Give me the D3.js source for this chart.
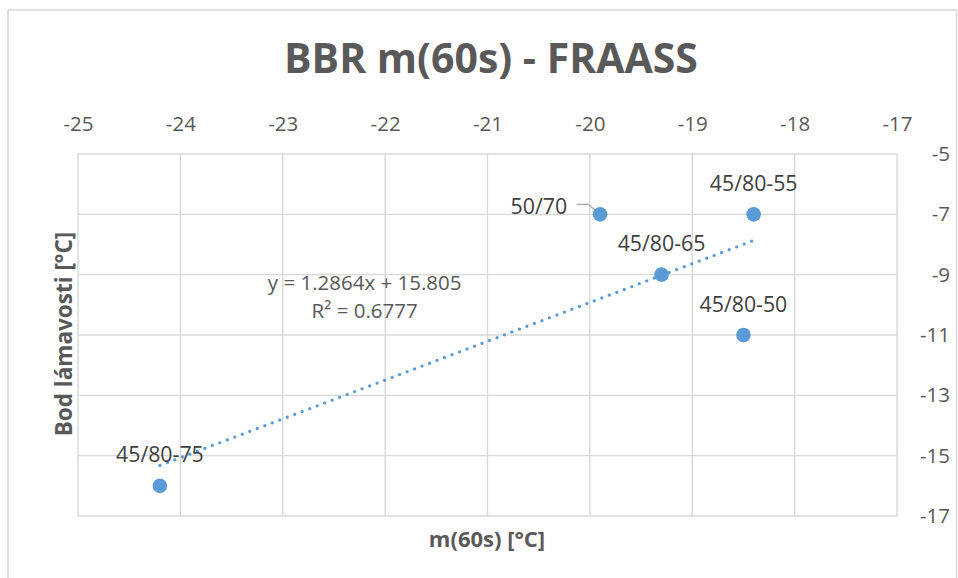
<!DOCTYPE html>
<html>
<head>
<meta charset="utf-8">
<script src="https://cdn.jsdelivr.net/npm/d3@7"></script>
<style>
  html, body { margin: 0; padding: 0; background: #ffffff; }
  svg { display: block; font-family: "Open Sans", "Noto Sans", sans-serif; }
</style>
</head>
<body>
<svg id="chart" width="958" height="578"></svg>
<script>
// Samples: m(60s) vs. breaking point (Fraass)
const sampleNames = ["45/80-75", "50/70", "45/80-65", "45/80-55", "45/80-50"];
const m60Values   = [-24.2, -19.9, -19.3, -18.4, -18.5];
const fraassValues = [-16, -7, -9, -7, -11];

// Linear trendline coefficients as printed on the chart
const trendSlope = 1.2864;
const trendIntercept = 15.805;
const trendR2 = 0.6777;

// Axis ticks
const xTicks = [-25, -24, -23, -22, -21, -20, -19, -18, -17];
const yTicks = [-5, -7, -9, -11, -13, -15, -17];

const svg = d3.select("#chart");
const plot = { left: 78, top: 154, right: 897, bottom: 516 };

const x = d3.scaleLinear().domain([-25, -17]).range([plot.left, plot.right]);
const y = d3.scaleLinear().domain([-17, -5]).range([plot.bottom, plot.top]);

const textColor = "#595959";
const gridColor = "#d9d9d9";
const blue = "#5b9bd5";

// chart frame
svg.append("rect")
  .attr("x", 8).attr("y", 10)
  .attr("width", 948.5).attr("height", 620)
  .attr("fill", "#fff").attr("stroke", "#d9d9d9").attr("stroke-width", 1.6);

// title
svg.append("text")
  .attr("x", 491).attr("y", 73)
  .attr("text-anchor", "middle")
  .attr("font-size", 41).attr("font-weight", 700)
  .attr("fill", textColor)
  .text("BBR m(60s) - FRAASS");

// gridlines
const grid = svg.append("g");
grid.selectAll("line.v").data(xTicks).join("line")
  .attr("x1", d => x(d)).attr("x2", d => x(d))
  .attr("y1", plot.top).attr("y2", plot.bottom)
  .attr("stroke", gridColor).attr("stroke-width", 1.4);
grid.selectAll("line.h").data(yTicks).join("line")
  .attr("y1", d => y(d)).attr("y2", d => y(d))
  .attr("x1", plot.left).attr("x2", plot.right)
  .attr("stroke", gridColor).attr("stroke-width", 1.4);

// top x axis (labels only)
const xAxis = d3.axisTop(x).tickValues(xTicks).tickSize(0).tickPadding(0)
  .tickFormat(d => d3.format("d")(d).replace("−", "-"));
const gx = svg.append("g").attr("transform", `translate(0,${plot.top - 23})`).call(xAxis);
gx.select(".domain").remove();
gx.selectAll("text").attr("font-size", 20.5).attr("fill", textColor)
  .attr("font-family", "'Open Sans', sans-serif");

// right y axis (labels only)
const yAxis = d3.axisRight(y).tickValues(yTicks).tickSize(0).tickPadding(0)
  .tickFormat(d => d3.format("d")(d).replace("−", "-"));
const gy = svg.append("g").attr("transform", `translate(${plot.right + 53},0)`).call(yAxis);
gy.select(".domain").remove();
gy.selectAll("text").attr("font-size", 20.5).attr("fill", textColor)
  .attr("text-anchor", "end")
  .attr("font-family", "'Open Sans', sans-serif");

// axis titles
svg.append("text")
  .attr("x", 487).attr("y", 547)
  .attr("text-anchor", "middle")
  .attr("font-size", 22).attr("font-weight", 700).attr("fill", textColor)
  .text("m(60s) [°C]");
svg.append("text")
  .attr("transform", `translate(72,334) rotate(-90)`)
  .attr("text-anchor", "middle")
  .attr("font-size", 22.5).attr("font-weight", 700).attr("fill", textColor)
  .text("Bod lámavosti [°C]");

// trendline across the data range
const xMin = d3.min(m60Values), xMax = d3.max(m60Values);
const trendPts = [xMin, xMax].map(v => [x(v), y(trendSlope * v + trendIntercept)]);
svg.append("path")
  .attr("d", d3.line()(trendPts))
  .attr("fill", "none").attr("stroke", blue)
  .attr("stroke-width", 3.2).attr("stroke-linecap", "round")
  .attr("stroke-dasharray", "0.01 8");

// trendline equation
const eqX = x(-22.2), eqY = y(-9.51);
svg.append("text")
  .attr("x", eqX).attr("y", eqY)
  .attr("text-anchor", "middle").attr("font-size", 20.5).attr("fill", textColor)
  .text(`y = ${trendSlope}x + ${trendIntercept}`);
svg.append("text")
  .attr("x", eqX).attr("y", eqY + 28)
  .attr("text-anchor", "middle").attr("font-size", 20.5).attr("fill", textColor)
  .text(`R² = ${trendR2}`);

const points = sampleNames.map((n, i) => ({ name: n, xv: m60Values[i], yv: fraassValues[i] }));

// leader line for the shifted label
const p5070 = points.find(p => p.name === "50/70");
const lx = x(p5070.xv), ly = y(p5070.yv);
svg.append("path")
  .attr("d", d3.line()([[lx - 23, ly - 10], [lx - 12, ly - 10], [lx - 1, ly - 1]]))
  .attr("fill", "none").attr("stroke", "#a6a6a6").attr("stroke-width", 1.3);

// markers
svg.append("g").selectAll("circle").data(points).join("circle")
  .attr("cx", d => x(d.xv)).attr("cy", d => y(d.yv))
  .attr("r", 7.3).attr("fill", blue);

// data labels: above each marker, except 50/70 which sits to the left
svg.append("g").selectAll("text").data(points).join("text")
  .attr("x", d => d.name === "50/70" ? x(d.xv) - 33 : x(d.xv))
  .attr("y", d => d.name === "50/70" ? y(d.yv) : y(d.yv) - 23.5)
  .attr("text-anchor", d => d.name === "50/70" ? "end" : "middle")
  .attr("font-size", 21.3).attr("fill", "#404040")
  .text(d => d.name);
</script>
</body>
</html>
